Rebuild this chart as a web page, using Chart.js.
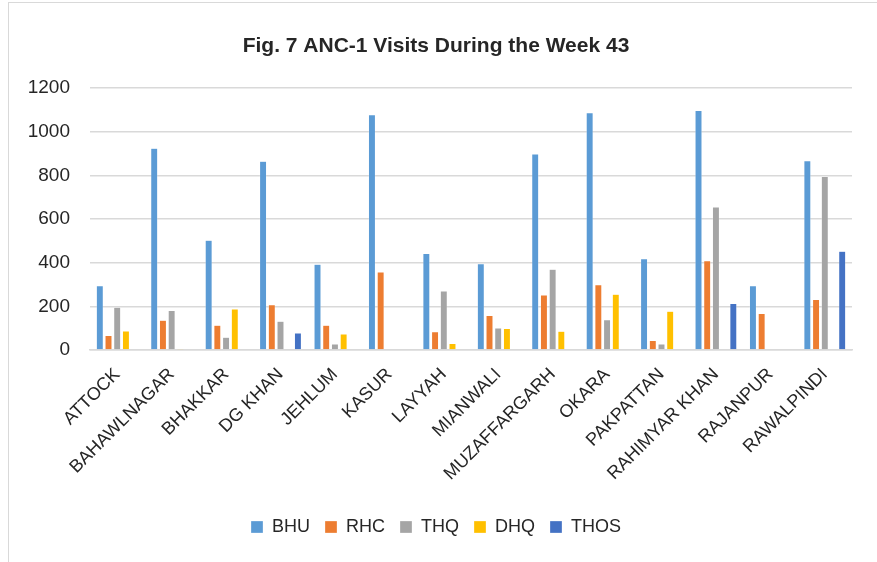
<!DOCTYPE html>
<html lang="en">
<head>
    <meta charset="UTF-8">
    <title>Fig. 7 ANC-1 Visits During the Week 43</title>
    <script src="https://cdn.jsdelivr.net/npm/chart.js"></script>
    <style>
        body {
            margin: 0;
            background: #fff;
        }
        #frame {
            position: absolute;
            left: 8px;
            top: 2px;
            width: 900px;
            height: 600px;
            border: 1.5px solid #d9d9d9;
        }
        #chart-container {
            position: absolute;
            left: 0;
            top: 0;
            width: 877px;
            height: 562px;
        }
    </style>
</head>
<body>
    <div id="frame"></div>
    <div id="chart-container">
        <canvas id="anc-chart"></canvas>
    </div>

    <script>
        const districts = ['ATTOCK', 'BAHAWLNAGAR', 'BHAKKAR', 'DG KHAN', 'JEHLUM', 'KASUR', 'LAYYAH',
            'MIANWALI', 'MUZAFFARGARH', 'OKARA', 'PAKPATTAN', 'RAHIMYAR KHAN', 'RAJANPUR', 'RAWALPINDI'];

        const bhu  = [294, 925, 503, 865, 393, 1078, 442, 395, 898, 1087, 418, 1098, 294, 868];
        const rhc  = [66, 136, 113, 207, 113, 358, 84, 158, 252, 299, 43, 409, 167, 232];
        const thq  = [196, 181, 59, 132, 27, null, 270, 101, 370, 139, 27, 656, null, 795];
        const dhq  = [87, 6, 188, null, 73, null, 30, 98, 86, 255, 178, null, null, null];
        const thos = [null, null, null, 78, null, null, null, null, null, null, null, 213, null, 453];

        const yTicks = [0, 200, 400, 600, 800, 1000, 1200];

        const font = '"Liberation Sans", Arial, sans-serif';
        const textColor = '#262626';

        function series(label, data, color) {
            return {
                label: label,
                data: data,
                backgroundColor: color,
                borderColor: 'rgba(255,255,255,0.6)',
                borderWidth: 0.5,
                categoryPercentage: 0.8,
                barPercentage: 0.8
            };
        }

        const ctx = document.getElementById('anc-chart').getContext('2d');
        const ancChart = new Chart(ctx, {
            type: 'bar',
            data: {
                labels: districts,
                datasets: [
                    series('BHU', bhu, '#5B9BD5'),
                    series('RHC', rhc, '#ED7D31'),
                    series('THQ', thq, '#A5A5A5'),
                    series('DHQ', dhq, '#FFC000'),
                    series('THOS', thos, '#4472C4')
                ]
            },
            options: {
                responsive: true,
                maintainAspectRatio: false,
                animation: false,
                layout: {
                    padding: { left: 20, right: 25, top: 0, bottom: 16 }
                },
                plugins: {
                    title: {
                        display: true,
                        text: 'Fig. 7 ANC-1 Visits During the Week 43',
                        color: textColor,
                        font: { family: font, size: 21, weight: 'bold' },
                        padding: { top: 34, bottom: 29 }
                    },
                    legend: {
                        position: 'bottom',
                        labels: {
                            color: textColor,
                            font: { family: font, size: 18 },
                            boxWidth: 12,
                            boxHeight: 12,
                            padding: 15
                        }
                    },
                    tooltip: { enabled: false }
                },
                scales: {
                    x: {
                        grid: { display: false, drawTicks: false },
                        border: { color: '#d9d9d9', width: 1.5 },
                        ticks: {
                            color: textColor,
                            font: { family: font, size: 18 },
                            minRotation: 45,
                            maxRotation: 45,
                            padding: 14,
                            autoSkip: false
                        },
                        afterFit: function (scale) { scale.height = 153; }
                    },
                    y: {
                        min: 0,
                        max: 1200,
                        afterBuildTicks: function (scale) {
                            scale.ticks = yTicks.map(v => ({ value: v }));
                        },
                        grid: { color: '#d9d9d9', lineWidth: 1.5, drawTicks: false },
                        border: { display: false },
                        ticks: {
                            color: textColor,
                            font: { family: font, size: 19 },
                            padding: 20,
                            callback: function (value) { return String(value); }
                        },
                        afterFit: function (scale) { scale.width = 70; }
                    }
                }
            }
        });
    </script>
</body>
</html>
